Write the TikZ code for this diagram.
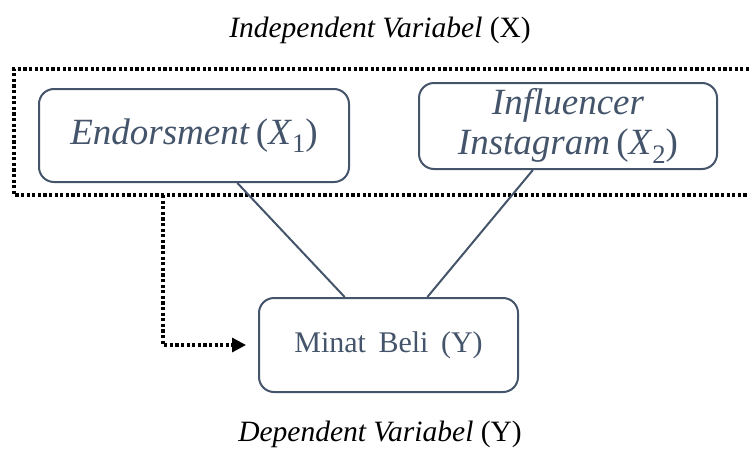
\documentclass[tikz,border=0pt]{standalone}
\usepackage{fontspec}
\setmainfont{Liberation Serif}
\usetikzlibrary{arrows.meta,calc}
\definecolor{slate}{HTML}{44546A}
\newcommand{\varsub}[2]{(\textit{#1}\raisebox{-0.22em}{\scalebox{0.72}{#2}})}
\begin{document}
\begin{tikzpicture}[x=1pt,y=-1pt,
  vbox/.style={draw=slate,line width=2pt,rounded corners=15pt,text=slate,inner sep=0pt,align=center},
  dotline/.style={line width=3.2pt,dash pattern=on 3.2pt off 2.4pt,black},
  lbl/.style={inner sep=0pt,font=\fontsize{29.5}{34}\selectfont}]
\useasboundingbox (0,0) rectangle (749,450);
\node[lbl] (tx) at (380,30) {\textit{Independent Variabel} (X)};
\node[lbl] (ty) at (380,434) {\textit{Dependent Variabel} (Y)};
\draw[dotline] (749,69) -- (14,69) -- (14,195) -- (749,195);
\coordinate (dstart) at (163,195);
\node[vbox,minimum width=310pt,minimum height=93pt,font=\fontsize{37}{40}\selectfont] (e) at (194,135.5) {\textit{Endorsment}\,\varsub{X}{1}};
\node[vbox,minimum width=298pt,minimum height=86pt,font=\fontsize{37}{40}\selectfont] (i) at (568,126) {\textit{Influencer}\\\textit{Instagram}\,\varsub{X}{2}};
\node[vbox,minimum width=259pt,minimum height=94pt,font=\fontsize{30}{36}\selectfont] (m) at (388.5,345) {Minat\, Beli\, (Y)};
\draw[slate,line width=2pt] ($(e.south west)!0.639!(e.south east)$) -- ($(m.north west)!0.332!(m.north east)$);
\draw[slate,line width=2pt] ($(i.south west)!0.383!(i.south east)$) -- ($(m.north west)!0.649!(m.north east)$);
\draw[dotline,-{Triangle[length=14pt,width=14pt]},shorten >=12pt] (dstart) |- (m.west);
\end{tikzpicture}
\end{document}
